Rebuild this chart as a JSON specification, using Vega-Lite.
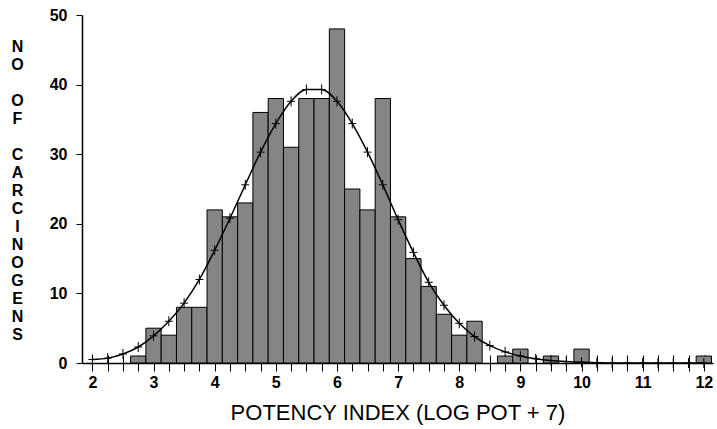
{
  "$schema": "https://vega.github.io/schema/vega-lite/v6.json",
  "width": 631,
  "height": 348,
  "autosize": "none",
  "padding": {"left": 82, "top": 15, "right": 4, "bottom": 66},
  "background": "white",
  "config": {
    "view": {"stroke": null},
    "font": "Liberation Sans",
    "axis": {"grid": false, "domainColor": "black", "tickColor": "black", "labelColor": "black", "titleColor": "black"}
  },
  "datasets": {
    "bars": [
      {"center": 2.75, "lo": 2.625, "hi": 2.875, "count": 1},
      {"center": 3.0, "lo": 2.875, "hi": 3.125, "count": 5},
      {"center": 3.25, "lo": 3.125, "hi": 3.375, "count": 4},
      {"center": 3.5, "lo": 3.375, "hi": 3.625, "count": 8},
      {"center": 3.75, "lo": 3.625, "hi": 3.875, "count": 8},
      {"center": 4.0, "lo": 3.875, "hi": 4.125, "count": 22},
      {"center": 4.25, "lo": 4.125, "hi": 4.375, "count": 21},
      {"center": 4.5, "lo": 4.375, "hi": 4.625, "count": 23},
      {"center": 4.75, "lo": 4.625, "hi": 4.875, "count": 36},
      {"center": 5.0, "lo": 4.875, "hi": 5.125, "count": 38},
      {"center": 5.25, "lo": 5.125, "hi": 5.375, "count": 31},
      {"center": 5.5, "lo": 5.375, "hi": 5.625, "count": 38},
      {"center": 5.75, "lo": 5.625, "hi": 5.875, "count": 38},
      {"center": 6.0, "lo": 5.875, "hi": 6.125, "count": 48},
      {"center": 6.25, "lo": 6.125, "hi": 6.375, "count": 25},
      {"center": 6.5, "lo": 6.375, "hi": 6.625, "count": 22},
      {"center": 6.75, "lo": 6.625, "hi": 6.875, "count": 38},
      {"center": 7.0, "lo": 6.875, "hi": 7.125, "count": 21},
      {"center": 7.25, "lo": 7.125, "hi": 7.375, "count": 15},
      {"center": 7.5, "lo": 7.375, "hi": 7.625, "count": 11},
      {"center": 7.75, "lo": 7.625, "hi": 7.875, "count": 7},
      {"center": 8.0, "lo": 7.875, "hi": 8.125, "count": 4},
      {"center": 8.25, "lo": 8.125, "hi": 8.375, "count": 6},
      {"center": 8.75, "lo": 8.625, "hi": 8.875, "count": 1},
      {"center": 9.0, "lo": 8.875, "hi": 9.125, "count": 2},
      {"center": 9.5, "lo": 9.375, "hi": 9.625, "count": 1},
      {"center": 10.0, "lo": 9.875, "hi": 10.125, "count": 2},
      {"center": 12.0, "lo": 11.875, "hi": 12.125, "count": 1}
    ],
    "curve": [
      {"x": 2.0, "y": 0.5}, {"x": 2.25, "y": 0.7}, {"x": 2.5, "y": 1.3}, {"x": 2.75, "y": 2.3},
      {"x": 3.0, "y": 3.9}, {"x": 3.25, "y": 6.0}, {"x": 3.5, "y": 8.6}, {"x": 3.75, "y": 12.0},
      {"x": 4.0, "y": 16.2}, {"x": 4.25, "y": 20.8}, {"x": 4.5, "y": 25.6}, {"x": 4.75, "y": 30.3},
      {"x": 5.0, "y": 34.4}, {"x": 5.25, "y": 37.6}, {"x": 5.5, "y": 39.3}, {"x": 5.75, "y": 39.3},
      {"x": 6.0, "y": 37.6}, {"x": 6.25, "y": 34.4}, {"x": 6.5, "y": 30.3}, {"x": 6.75, "y": 25.6},
      {"x": 7.0, "y": 20.6}, {"x": 7.25, "y": 15.9}, {"x": 7.5, "y": 11.6}, {"x": 7.75, "y": 8.3},
      {"x": 8.0, "y": 5.7}, {"x": 8.25, "y": 3.8}, {"x": 8.5, "y": 2.5}, {"x": 8.75, "y": 1.6},
      {"x": 9.0, "y": 1.0}, {"x": 9.25, "y": 0.6}, {"x": 9.5, "y": 0.35}, {"x": 9.75, "y": 0.2},
      {"x": 10.0, "y": 0.1}, {"x": 10.25, "y": 0.05}, {"x": 10.5, "y": 0}, {"x": 10.75, "y": 0},
      {"x": 11.0, "y": 0}, {"x": 11.25, "y": 0}, {"x": 11.5, "y": 0}, {"x": 11.75, "y": 0},
      {"x": 12.0, "y": 0}
    ]
  },
  "layer": [
    {
      "data": {"name": "bars"},
      "mark": {"type": "rect", "fill": "#858585", "stroke": "black", "strokeWidth": 1},
      "encoding": {
        "x": {
          "field": "lo", "type": "quantitative",
          "scale": {"domain": [1.83, 12.15], "nice": false, "zero": false},
          "axis": {
            "values": [2,2.25,2.5,2.75,3,3.25,3.5,3.75,4,4.25,4.5,4.75,5,5.25,5.5,5.75,6,6.25,6.5,6.75,7,7.25,7.5,7.75,8,8.25,8.5,8.75,9,9.25,9.5,9.75,10,10.25,10.5,10.75,11,11.25,11.5,11.75,12],
            "labelExpr": "datum.value % 1 == 0 ? format(datum.value, 'd') : ''",
            "tickSize": 8, "tickWidth": 1, "domainWidth": 1.5,
            "labelFont": "Liberation Sans", "labelFontWeight": "bold", "labelFontSize": 16,
            "labelPadding": 3, "labelFlush": false, "labelOverlap": false,
            "title": "POTENCY INDEX (LOG POT + 7)",
            "titleFont": "Liberation Sans", "titleFontWeight": "normal", "titleFontSize": 22,
            "titlePadding": 12
          }
        },
        "x2": {"field": "hi"},
        "y": {
          "field": "count", "type": "quantitative",
          "scale": {"domain": [0, 50], "nice": false},
          "axis": {
            "values": [0, 10, 20, 30, 40, 50],
            "tickSize": 6, "tickWidth": 1, "domainWidth": 1.5,
            "labelFont": "Liberation Sans", "labelFontWeight": "bold", "labelFontSize": 16,
            "labelPadding": 9,
            "title": ["N","O","\u2800","O","F","\u2800","C","A","R","C","I","N","O","G","E","N","S"],
            "titleAngle": 0, "titleAlign": "center", "titleBaseline": "top",
            "titleX": -65, "titleY": 23,
            "titleFont": "Liberation Sans", "titleFontWeight": "bold", "titleFontSize": 16,
            "titleLineHeight": 18
          }
        },
        "y2": {"datum": 0}
      }
    },
    {
      "data": {"name": "curve"},
      "mark": {"type": "line", "color": "black", "strokeWidth": 1.5, "interpolate": "monotone"},
      "encoding": {
        "x": {
          "field": "x", "type": "quantitative",
          "axis": {
            "orient": "bottom", "offset": -8, "domain": false, "labels": false, "title": null,
            "tickSize": 8, "tickWidth": 1,
            "values": [2,2.25,2.5,2.75,3,3.25,3.5,3.75,4,4.25,4.5,4.75,5,5.25,5.5,5.75,6,6.25,6.5,6.75,7,7.25,7.5,7.75,8,8.25,8.5,8.75,9,9.25,9.5,9.75,10,10.25,10.5,10.75,11,11.25,11.5,11.75,12]
          }
        },
        "y": {"field": "y", "type": "quantitative"}
      }
    },
    {
      "data": {"name": "curve"},
      "mark": {"type": "point", "shape": "M0,-1L0,1M-0.8,0L0.8,0", "filled": false, "stroke": "black", "strokeWidth": 1, "size": 100, "opacity": 1},
      "encoding": {
        "x": {"field": "x", "type": "quantitative", "axis": null},
        "y": {"field": "y", "type": "quantitative"}
      }
    }
  ],
  "resolve": {"axis": {"x": "independent"}}
}
